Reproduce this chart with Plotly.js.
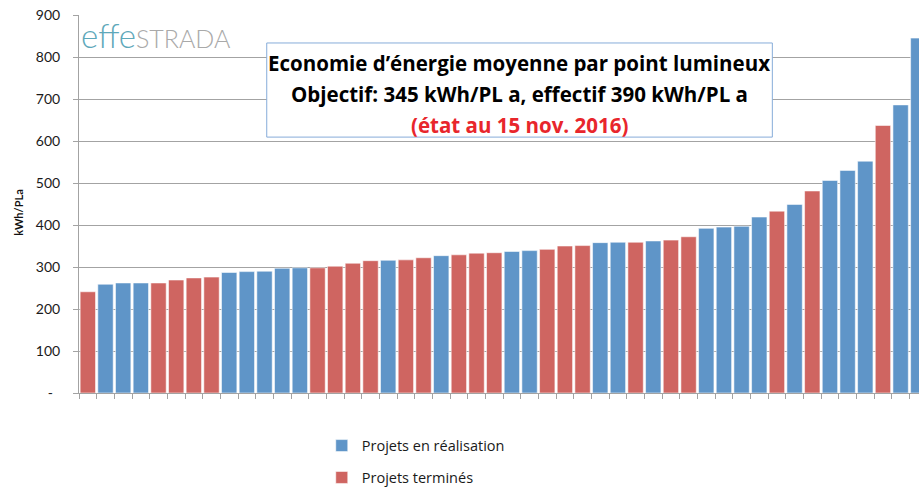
<!DOCTYPE html>
<html>
<head>
<meta charset="utf-8">
<script src="https://cdn.plot.ly/plotly-3.0.1.min.js"></script>
<style>
  html, body { margin: 0; padding: 0; background: #fff; overflow: hidden; }
</style>
</head>
<body>
<div id="chart" style="width:919px;height:488px;"></div>
<script>
// economie par point lumineux, kWh/PL a (sorted)
const valeurs = [
  241, 259, 262, 262, 262, 269, 274, 276, 287, 289, 290, 297,
  298, 298, 302, 309, 315, 316, 317, 322, 327, 329, 333, 334,
  337, 339, 342, 350, 351, 358, 359, 359, 362, 364, 372, 392,
  395, 397, 419, 433, 449, 481, 506, 530, 552, 637, 686, 845
];
// R = en réalisation, T = terminé
const statut = [
  "T", "R", "R", "R", "T", "T", "T", "T", "R", "R", "R", "R",
  "R", "T", "T", "T", "T", "R", "T", "T", "R", "T", "T", "T",
  "R", "R", "T", "T", "T", "R", "R", "T", "R", "T", "T", "R",
  "R", "R", "R", "T", "R", "T", "R", "R", "R", "T", "R", "R"
];
const projets = valeurs.map((v, i) => "Projet " + (i + 1));
const yTicks = [0, 100, 200, 300, 400, 500, 600, 700, 800, 900];
const yLabels = ["-\u00a0\u00a0", "100", "200", "300", "400", "500", "600", "700", "800", "900"];

const bleu = "#5f95c8";
const rouge = "#cf6561";
const grille = "#a3a3a3";

const enCours = valeurs.map((v, i) => (statut[i] === "R" ? v : null));
const termines = valeurs.map((v, i) => (statut[i] === "T" ? v : null));

const traces = [
  {
    type: "bar",
    x: projets,
    y: enCours,
    name: "Projets en réalisation",
    legendgroup: "a",
    marker: { color: bleu, line: { color: "rgba(255,255,255,0.55)", width: 1 } },
    hoverinfo: "skip",
  },
  {
    type: "bar",
    x: projets,
    y: termines,
    name: "Projets terminés",
    legendgroup: "b",
    marker: { color: rouge, line: { color: "rgba(255,255,255,0.55)", width: 1 } },
    hoverinfo: "skip",
  },
];

const titreFont = "'Open Sans', Lato, sans-serif";

const layout = {
  width: 919,
  height: 488,
  margin: { l: 79, r: 0, t: 15, b: 95, autoexpand: false },
  paper_bgcolor: "#fff",
  plot_bgcolor: "#fff",
  font: { family: "Lato, 'Open Sans', sans-serif", color: "#1a1a1a", size: 14 },
  barmode: "overlay",
  bargap: 0.13,
  showlegend: true,
  legend: {
    orientation: "v",
    x: 0.289,
    xanchor: "left",
    y: -0.097,
    yanchor: "top",
    tracegroupgap: 10,
    font: { family: titreFont, size: 14.5, color: "#1a1a1a" },
  },
  xaxis: {
    type: "category",
    categoryorder: "array",
    categoryarray: projets,
    range: [-0.5, 47.04],
    showticklabels: false,
    ticks: "outside",
    tickson: "boundaries",
    ticklen: 5,
    tickcolor: grille,
    showline: true,
    linecolor: grille,
    linewidth: 1,
    showgrid: false,
    zeroline: false,
  },
  yaxis: {
    range: [0, 900],
    tickvals: yTicks,
    ticktext: yLabels,
    ticks: "outside",
    ticklen: 5,
    tickcolor: grille,
    ticklabelstandoff: 10,
    showline: true,
    linecolor: grille,
    linewidth: 1,
    showgrid: true,
    gridcolor: grille,
    gridwidth: 1,
    zeroline: false,
    tickfont: { size: 14 },
  },
  shapes: [
    {
      type: "rect",
      xref: "paper",
      yref: "paper",
      x0: 0.2235,
      x1: 0.8254,
      y0: 0.677,
      y1: 0.926,
      line: { color: "#86acd9", width: 1 },
      fillcolor: "#fff",
      layer: "above",
    },
  ],
  annotations: [
    {
      xref: "paper", yref: "paper",
      x: -0.0714, y: 0.477,
      xanchor: "center", yanchor: "middle",
      text: "<b>kWh/PLa</b>",
      textangle: -90,
      showarrow: false,
      font: { size: 11, color: "#111" },
    },
    {
      xref: "paper", yref: "paper",
      x: 0.5244, y: 0.874,
      xanchor: "center", yanchor: "middle",
      text: "<b>Economie d’énergie moyenne par point lumineux</b>",
      showarrow: false,
      font: { family: titreFont, size: 20.5, color: "#000" },
    },
    {
      xref: "paper", yref: "paper",
      x: 0.5244, y: 0.792,
      xanchor: "center", yanchor: "middle",
      text: "<b>Objectif: 345 kWh/PL a, effectif 390 kWh/PL a</b>",
      showarrow: false,
      font: { family: titreFont, size: 20.5, color: "#000" },
    },
    {
      xref: "paper", yref: "paper",
      x: 0.5244, y: 0.71,
      xanchor: "center", yanchor: "middle",
      text: "<b>(état au 15 nov. 2016)</b>",
      showarrow: false,
      font: { family: titreFont, size: 20.5, color: "#e8262c" },
    },
    {
      xref: "paper", yref: "paper",
      x: 0.0, y: 1.006,
      xanchor: "left", yanchor: "top",
      text: '<span style="color:#5ea8ba;font-size:33px">effe</span><span style="color:#a9a9a9">STRADA</span>',
      showarrow: false,
      font: { size: 25, weight: 300 },
    },
  ],
};

Plotly.newPlot("chart", traces, layout, { staticPlot: true, displayModeBar: false });
</script>
</body>
</html>
